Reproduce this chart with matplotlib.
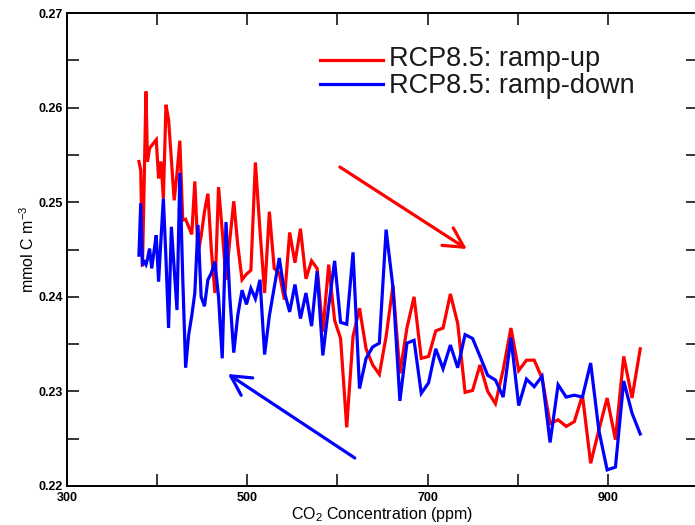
import matplotlib
matplotlib.use("Agg")
import matplotlib.pyplot as plt
from matplotlib.ticker import MultipleLocator, FixedLocator
from matplotlib.lines import Line2D

plt.rcParams['font.family'] = ['Liberation Sans', 'DejaVu Sans']
plt.rcParams['mathtext.default'] = 'regular'

# RCP8.5 CO2 concentration (ppm), one value per year 2005-2100
co2 = [379.8, 381.8, 383.7, 385.7, 387.6, 389.3, 391.6, 394.0, 396.5, 399.0,
       401.6, 404.2, 406.9, 409.8, 412.7, 415.8, 418.9, 422.0, 425.2, 428.4,
       431.6, 435.0, 438.4, 441.8, 445.3, 448.8, 452.5, 456.3, 460.1, 464.1,
       468.1, 472.2, 476.4, 480.6, 485.0, 489.4, 494.2, 499.1, 504.0, 509.0,
       514.1, 519.2, 524.5, 529.9, 535.5, 541.2, 547.0, 552.9, 559.0, 565.1,
       571.3, 577.5, 583.8, 590.3, 596.9, 603.5, 610.3, 617.3, 624.5, 631.8,
       639.1, 646.5, 654.0, 661.6, 669.3, 677.1, 685.0, 693.0, 701.1, 709.1,
       717.2, 725.3, 733.4, 741.6, 749.9, 758.2, 766.7, 775.3, 783.9, 792.5,
       801.1, 809.7, 818.3, 827.0, 835.9, 844.8, 853.8, 862.8, 871.8, 880.9,
       890.0, 899.2, 908.4, 917.6, 926.8, 935.9]

ramp_up = [0.2543, 0.2534, 0.2432, 0.2525, 0.2617, 0.2543, 0.2557, 0.2560, 0.2563, 0.2566,
           0.2525, 0.2543, 0.2504, 0.2603, 0.2587, 0.2545, 0.2502, 0.2530, 0.2565, 0.2481,
           0.2482, 0.2474, 0.2466, 0.2522, 0.2446, 0.2464, 0.2490, 0.2509, 0.2450, 0.2404,
           0.2516, 0.2470, 0.2418, 0.2460, 0.2501, 0.2455, 0.2418, 0.2424, 0.2428, 0.2542,
           0.2470, 0.2404, 0.2490, 0.2430, 0.2425, 0.2397, 0.2468, 0.2436, 0.2472, 0.2419,
           0.2438, 0.2430, 0.2363, 0.2434, 0.2375, 0.2356, 0.2262, 0.2358, 0.2388, 0.2345,
           0.2328, 0.2318, 0.2358, 0.2412, 0.2319, 0.2367, 0.2400, 0.2335, 0.2337, 0.2364,
           0.2367, 0.2403, 0.2372, 0.2299, 0.2301, 0.2328, 0.2300, 0.2287, 0.2323, 0.2367,
           0.2322, 0.2333, 0.2333, 0.2314, 0.2266, 0.2270, 0.2263, 0.2268, 0.2296, 0.2224,
           0.2259, 0.2293, 0.2249, 0.2337, 0.2293, 0.2345]

ramp_down = [0.2444, 0.2499, 0.2435, 0.2437, 0.2434, 0.2440, 0.2451, 0.2430, 0.2448, 0.2465,
             0.2416, 0.2460, 0.2504, 0.2440, 0.2367, 0.2474, 0.2430, 0.2386, 0.2531, 0.2420,
             0.2325, 0.2360, 0.2380, 0.2404, 0.2476, 0.2400, 0.2390, 0.2418, 0.2425, 0.2437,
             0.2400, 0.2335, 0.2479, 0.2400, 0.2341, 0.2380, 0.2407, 0.2392, 0.2409, 0.2398,
             0.2418, 0.2339, 0.2380, 0.2410, 0.2441, 0.2405, 0.2384, 0.2413, 0.2377, 0.2404,
             0.2369, 0.2427, 0.2338, 0.2390, 0.2438, 0.2373, 0.2371, 0.2447, 0.2303, 0.2335,
             0.2347, 0.2351, 0.2471, 0.2410, 0.2290, 0.2351, 0.2354, 0.2298, 0.2309, 0.2345,
             0.2324, 0.2349, 0.2325, 0.2360, 0.2356, 0.2337, 0.2317, 0.2312, 0.2294, 0.2357,
             0.2285, 0.2313, 0.2305, 0.2316, 0.2246, 0.2307, 0.2294, 0.2296, 0.2294, 0.2330,
             0.2259, 0.2217, 0.2220, 0.2311, 0.2277, 0.2255]

series_labels = ['RCP8.5: ramp-up', 'RCP8.5: ramp-down']
series_colors = ['#ff0000', '#0000ff']
x_label_ticks = [300, 500, 700, 900]
y_label_ticks = [0.22, 0.23, 0.24, 0.25, 0.26, 0.27]

fig = plt.figure(figsize=(6.95, 5.25), dpi=100)
ax = fig.add_axes([67/695, 1-486/525, 631/695, 473/525])

ax.plot(co2, ramp_up, color=series_colors[0], lw=2.3, solid_joinstyle='miter')
ax.plot(co2, ramp_down, color=series_colors[1], lw=2.3, solid_joinstyle='miter')

ax.set_xlim(300, 1000)
ax.set_ylim(0.22, 0.27)
ax.xaxis.set_major_locator(FixedLocator(x_label_ticks))
ax.xaxis.set_minor_locator(MultipleLocator(100))
ax.yaxis.set_major_locator(FixedLocator(y_label_ticks))
ax.yaxis.set_minor_locator(MultipleLocator(0.005))
ax.set_yticklabels(['%.2f' % v for v in y_label_ticks])
ax.set_xticklabels([str(v) for v in x_label_ticks])
ax.tick_params(which='both', direction='in', length=8.6, width=1.1,
               top=True, right=True, labelsize=9)
ax.tick_params(axis='x', pad=4)
ax.tick_params(axis='y', pad=3)
for lab in ax.get_xticklabels() + ax.get_yticklabels():
    lab.set_fontweight('bold')
for s in ax.spines.values():
    s.set_linewidth(1.4)

ax.set_xlabel('CO$_2$ Concentration (ppm)', fontsize=11.5, labelpad=1)
ax.set_ylabel('mmol C m$^{-3}$', fontsize=11.5, labelpad=1)

# trend arrows
ax.annotate('', xy=(743.5, 0.24505), xytext=(602.7, 0.25372),
            arrowprops=dict(arrowstyle='->,head_length=14,head_width=7.5', mutation_scale=1,
                            lw=2.3, color=series_colors[0], shrinkA=0, shrinkB=0))
ax.annotate('', xy=(478.5, 0.23184), xytext=(619.3, 0.22296),
            arrowprops=dict(arrowstyle='->,head_length=14,head_width=7.5', mutation_scale=1,
                            lw=2.3, color=series_colors[1], shrinkA=0, shrinkB=0))

# legend
for i, (lab, col) in enumerate(zip(series_labels, series_colors)):
    yl = 1 - (60 + 23.5 * i) / 525
    fig.add_artist(Line2D([320/695, 383/695], [yl, yl], color=col, lw=2.3))
    fig.text(389/695, 1 - (66.5 + 26.5 * i) / 525, lab, fontsize=19.5,
             va='baseline', ha='left', color='#1a1a1a')

fig.savefig('out.png', dpi=100)
